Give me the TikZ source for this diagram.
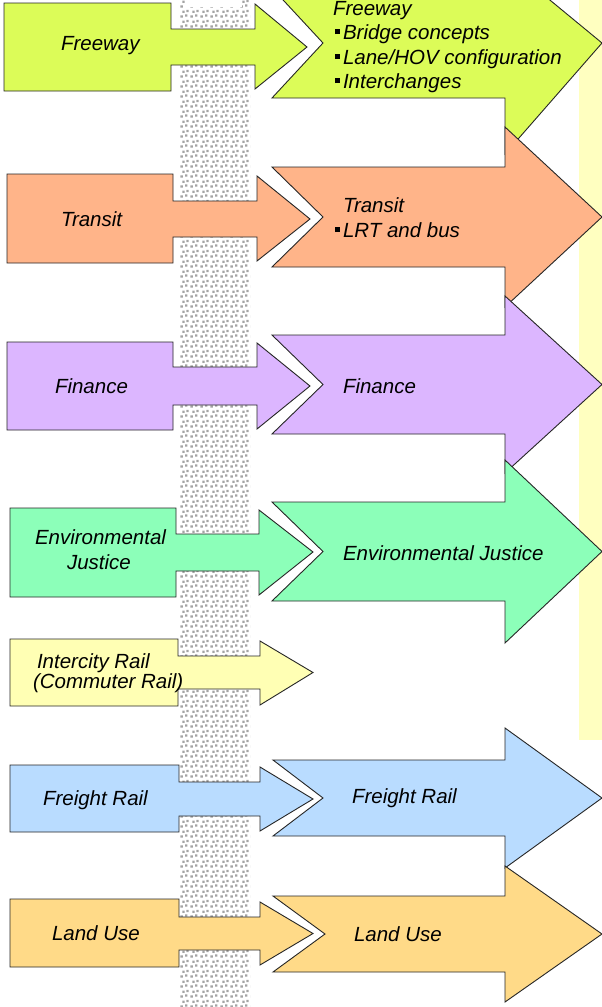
\documentclass[tikz,border=0pt]{standalone}
\usepackage{fontspec}
\setmainfont{Liberation Sans}
\usetikzlibrary{patterns.meta}
\definecolor{cFree}{RGB}{220,252,88}
\definecolor{cTran}{RGB}{255,180,137}
\definecolor{cFin}{RGB}{220,182,255}
\definecolor{cEJ}{RGB}{140,255,185}
\definecolor{cInt}{RGB}{255,255,180}
\definecolor{cFrt}{RGB}{185,220,255}
\definecolor{cLand}{RGB}{255,218,136}
\definecolor{cStrip}{RGB}{255,255,192}
\tikzdeclarepattern{
  name=grdots, type=uncolored,
  bounding box={(0pt,0pt) and (10pt,10pt)},
  tile size={(10pt,10pt)},
  code={
    \fill (0.5pt,0.5pt) rectangle (3pt,3pt);
    \fill (5.5pt,1.5pt) rectangle (8pt,4pt);
    \fill (2.5pt,5.5pt) rectangle (5pt,8pt);
    \fill (7pt,6.5pt) rectangle (9.5pt,9pt);
  }
}
\tikzset{
  arr/.style={draw=black!85, line width=0.9pt, line join=miter},
  lbl/.style={font=\itshape\fontsize{20.5}{25}\selectfont, anchor=base west, inner sep=0pt, outer sep=0pt},
}
\newcommand{\bul}{\rule[5pt]{5pt}{5pt}\hspace{3pt}}
\begin{document}
\begin{tikzpicture}[x=1pt,y=-1pt]
\useasboundingbox (0,0) rectangle (602,1007);
\clip (0,0) rectangle (602,1007);
\fill[white] (0,0) rectangle (602,1007);
% right strip
\fill[cStrip] (579,0) rectangle (602,740);
% dotted column
\fill[pattern=grdots, pattern color=gray!72] (179,0) rectangle (250,1007);
\fill[white] (185,0) rectangle (242,7);

% big arrows
\filldraw[arr, fill=cFree] (272,-12) -- (505,-12) -- (505,-37) -- (602,43) -- (505,154) -- (505,98) -- (272,98) -- (323,43) -- cycle;
\filldraw[arr, fill=cTran] (272,167) -- (505,167) -- (505,127) -- (602,217) -- (505,307) -- (505,267) -- (272,267) -- (323,217) -- cycle;
\filldraw[arr, fill=cFin] (272,335) -- (505,335) -- (505,296) -- (602,384.5) -- (505,473) -- (505,434) -- (272,434) -- (323,384.5) -- cycle;
\filldraw[arr, fill=cEJ] (272,502) -- (505,502) -- (505,460) -- (602,551.5) -- (505,643) -- (505,601) -- (272,601) -- (323,551.5) -- cycle;
\filldraw[arr, fill=cFrt] (273,760) -- (505,760) -- (505,728) -- (602,798) -- (505,868) -- (505,836) -- (273,836) -- (323,798) -- cycle;
\filldraw[arr, fill=cLand] (273,896) -- (505,896) -- (505,866) -- (602,934) -- (505,1002) -- (505,972) -- (273,972) -- (325,934) -- cycle;

% small arrows
\filldraw[arr, fill=cFree] (4,3) -- (171,3) -- (171,29) -- (255,29) -- (255,4) -- (307,47) -- (255,89) -- (255,65) -- (171,65) -- (171,91) -- (4,91) -- cycle;
\filldraw[arr, fill=cTran] (7,174) -- (173,174) -- (173,201) -- (257,201) -- (257,176) -- (310,219) -- (257,261) -- (257,237) -- (173,237) -- (173,263) -- (7,263) -- cycle;
\filldraw[arr, fill=cFin] (7,342) -- (173,342) -- (173,367) -- (257,367) -- (257,343) -- (310,386) -- (257,429) -- (257,405) -- (173,405) -- (173,430) -- (7,430) -- cycle;
\filldraw[arr, fill=cEJ] (10,508) -- (176,508) -- (176,534) -- (259,534) -- (259,510) -- (313,552) -- (259,595) -- (259,571) -- (176,571) -- (176,597) -- (10,597) -- cycle;
\filldraw[arr, fill=cInt] (10,639) -- (178,639) -- (178,656) -- (260,656) -- (260,641) -- (313,672.5) -- (260,705) -- (260,689) -- (178,689) -- (178,706) -- (10,706) -- cycle;
\filldraw[arr, fill=cFrt] (10,765) -- (179,765) -- (179,782) -- (260,782) -- (260,767) -- (313,799) -- (260,831) -- (260,816) -- (179,816) -- (179,832) -- (10,832) -- cycle;
\filldraw[arr, fill=cLand] (10,899) -- (179,899) -- (179,917) -- (260,917) -- (260,902) -- (313,933.5) -- (260,965) -- (260,950) -- (179,950) -- (179,967) -- (10,967) -- cycle;

% labels, left
\node[lbl] (tFree) at (61,50) {Freeway};
\node[lbl] (tTran) at (61,226) {Transit};
\node[lbl] (tFin) at (55,393) {Finance};
\node[lbl] (tEJa) at (35,544) {Environmental};
\node[lbl] (tEJb) at (67,569) {Justice};
\node[lbl] (tInta) at (37,668) {Intercity Rail};
\node[lbl] (tIntb) at (33,688) {(Commuter Rail)};
\node[lbl] (tFrt) at (43,805) {Freight Rail};
\node[lbl] (tLand) at (52,940) {Land Use};

% labels, right
\node[lbl] (bFree) at (333,15) {Freeway};
\node[lbl] (bFree1) at (335,39) {\bul Bridge concepts};
\node[lbl] (bFree2) at (335,64) {\bul Lane/HOV configuration};
\node[lbl] (bFree3) at (335,88) {\bul Interchanges};
\node[lbl] (bTran) at (343,212) {Transit};
\node[lbl] (bTran1) at (335,237) {\bul LRT and bus};
\node[lbl] (bFin) at (343,393) {Finance};
\node[lbl] (bEJ) at (343,560) {Environmental Justice};
\node[lbl] (bFrt) at (352,803) {Freight Rail};
\node[lbl] (bLand) at (354,941) {Land Use};
\end{tikzpicture}
\end{document}
